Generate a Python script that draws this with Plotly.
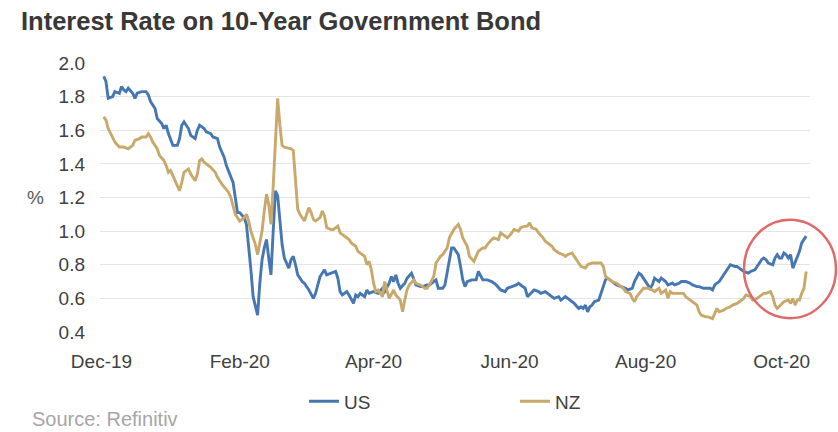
import plotly.graph_objects as go

# 10-year government bond yields (%), US
us_dates = [
    "2019-12-02", "2019-12-03", "2019-12-04", "2019-12-06", "2019-12-07", "2019-12-09", "2019-12-10",
    "2019-12-11", "2019-12-12", "2019-12-13", "2019-12-15", "2019-12-16", "2019-12-17", "2019-12-19",
    "2019-12-21", "2019-12-22", "2019-12-23", "2019-12-25", "2019-12-26", "2019-12-28", "2019-12-29",
    "2019-12-30", "2019-12-31", "2020-01-01", "2020-01-02", "2020-01-04", "2020-01-05", "2020-01-06",
    "2020-01-07", "2020-01-09", "2020-01-10", "2020-01-12", "2020-01-13", "2020-01-14", "2020-01-16",
    "2020-01-17", "2020-01-19", "2020-01-20", "2020-01-22", "2020-01-23", "2020-01-25", "2020-01-26",
    "2020-01-28", "2020-01-29", "2020-01-30", "2020-01-31", "2020-02-01", "2020-02-03", "2020-02-04",
    "2020-02-05", "2020-02-06", "2020-02-07", "2020-02-09", "2020-02-10", "2020-02-11", "2020-02-12",
    "2020-02-13", "2020-02-14", "2020-02-15", "2020-02-16", "2020-02-17", "2020-02-18", "2020-02-19",
    "2020-02-20", "2020-02-21", "2020-02-23", "2020-02-24", "2020-02-25", "2020-02-26", "2020-02-27",
    "2020-02-29", "2020-03-01", "2020-03-03", "2020-03-05", "2020-03-06", "2020-03-07", "2020-03-08",
    "2020-03-10", "2020-03-11", "2020-03-13", "2020-03-15", "2020-03-16", "2020-03-17", "2020-03-18",
    "2020-03-20", "2020-03-21", "2020-03-23", "2020-03-24", "2020-03-25", "2020-03-26", "2020-03-28",
    "2020-03-29", "2020-03-30", "2020-04-01", "2020-04-03", "2020-04-05", "2020-04-06", "2020-04-08",
    "2020-04-09", "2020-04-10", "2020-04-11", "2020-04-12", "2020-04-13", "2020-04-15", "2020-04-16",
    "2020-04-18", "2020-04-19", "2020-04-20", "2020-04-22", "2020-04-23", "2020-04-25", "2020-04-26",
    "2020-04-27", "2020-04-29", "2020-04-30", "2020-05-02", "2020-05-03", "2020-05-04", "2020-05-05",
    "2020-05-06", "2020-05-07", "2020-05-09", "2020-05-10", "2020-05-11", "2020-05-12", "2020-05-13",
    "2020-05-15", "2020-05-17", "2020-05-18", "2020-05-19", "2020-05-20", "2020-05-22", "2020-05-24",
    "2020-05-26", "2020-05-28", "2020-05-30", "2020-05-31", "2020-06-02", "2020-06-04", "2020-06-05",
    "2020-06-06", "2020-06-08", "2020-06-09", "2020-06-11", "2020-06-12", "2020-06-14", "2020-06-15",
    "2020-06-17", "2020-06-18", "2020-06-20", "2020-06-21", "2020-06-23", "2020-06-24", "2020-06-26",
    "2020-06-27", "2020-06-29", "2020-06-30", "2020-07-02", "2020-07-03", "2020-07-04", "2020-07-05",
    "2020-07-06", "2020-07-07", "2020-07-08", "2020-07-09", "2020-07-11", "2020-07-12", "2020-07-13",
    "2020-07-14", "2020-07-15", "2020-07-17", "2020-07-19", "2020-07-21", "2020-07-23", "2020-07-24",
    "2020-07-26", "2020-07-27", "2020-07-29", "2020-07-30", "2020-07-31", "2020-08-02", "2020-08-03",
    "2020-08-04", "2020-08-05", "2020-08-07", "2020-08-08", "2020-08-10", "2020-08-11", "2020-08-13",
    "2020-08-14", "2020-08-16", "2020-08-17", "2020-08-19", "2020-08-21", "2020-08-22", "2020-08-24",
    "2020-08-25", "2020-08-27", "2020-08-28", "2020-08-30", "2020-08-31", "2020-09-01", "2020-09-03",
    "2020-09-04", "2020-09-06", "2020-09-07", "2020-09-08", "2020-09-10", "2020-09-11", "2020-09-13",
    "2020-09-14", "2020-09-16", "2020-09-17", "2020-09-19", "2020-09-20", "2020-09-22", "2020-09-23",
    "2020-09-24", "2020-09-25", "2020-09-27", "2020-09-28", "2020-09-29", "2020-09-30", "2020-10-01",
    "2020-10-02", "2020-10-03", "2020-10-04", "2020-10-05", "2020-10-06", "2020-10-07", "2020-10-08",
    "2020-10-09", "2020-10-10", "2020-10-12",
]
us_rates = [
    1.92, 1.89, 1.79, 1.80, 1.83, 1.82, 1.86,
    1.84, 1.83, 1.85, 1.82, 1.79, 1.82, 1.83,
    1.83, 1.81, 1.77, 1.73, 1.67, 1.64, 1.61,
    1.63, 1.58, 1.54, 1.51, 1.51, 1.55, 1.63,
    1.65, 1.61, 1.57, 1.55, 1.60, 1.63, 1.61,
    1.59, 1.58, 1.56, 1.55, 1.50, 1.44, 1.39,
    1.33, 1.29, 1.20, 1.11, 1.11, 1.08, 1.04,
    0.92, 0.77, 0.61, 0.50, 0.69, 0.83, 0.90,
    0.95, 0.84, 0.74, 1.00, 1.24, 1.21, 1.06,
    0.92, 0.84, 0.78, 0.83, 0.85, 0.80, 0.74,
    0.70, 0.69, 0.65, 0.60, 0.63, 0.68, 0.73,
    0.77, 0.74, 0.75, 0.76, 0.72, 0.64, 0.62,
    0.64, 0.62, 0.57, 0.62, 0.61, 0.63, 0.61,
    0.65, 0.63, 0.64, 0.63, 0.66, 0.64, 0.69,
    0.73, 0.70, 0.74, 0.69, 0.66, 0.69, 0.72,
    0.75, 0.72, 0.68, 0.67, 0.67, 0.68, 0.68,
    0.69, 0.71, 0.66, 0.66, 0.68, 0.76, 0.84,
    0.90, 0.90, 0.86, 0.79, 0.71, 0.67, 0.70,
    0.71, 0.71, 0.76, 0.73, 0.71, 0.71, 0.70,
    0.68, 0.65, 0.64, 0.66, 0.67, 0.68, 0.69,
    0.68, 0.66, 0.61, 0.64, 0.65, 0.64, 0.63,
    0.64, 0.63, 0.61, 0.60, 0.61, 0.59, 0.61,
    0.60, 0.58, 0.57, 0.54, 0.55, 0.54, 0.56,
    0.52, 0.55, 0.56, 0.58, 0.59, 0.63, 0.68,
    0.71, 0.72, 0.70, 0.68, 0.67, 0.66, 0.65,
    0.66, 0.70, 0.75, 0.74, 0.72, 0.68, 0.66,
    0.68, 0.72, 0.70, 0.72, 0.70, 0.68, 0.69,
    0.68, 0.69, 0.70, 0.70, 0.69, 0.68, 0.67,
    0.67, 0.66, 0.66, 0.66, 0.65, 0.68, 0.70,
    0.72, 0.76, 0.78, 0.80, 0.79, 0.79, 0.77,
    0.76, 0.75, 0.76, 0.77, 0.79, 0.83, 0.84,
    0.83, 0.81, 0.80, 0.84, 0.86, 0.84, 0.84,
    0.87, 0.86, 0.84, 0.86, 0.78, 0.81, 0.85,
    0.88, 0.93, 0.97,
]

# 10-year government bond yields (%), NZ
nz_dates = [
    "2019-12-02", "2019-12-03", "2019-12-04", "2019-12-06", "2019-12-07", "2019-12-09", "2019-12-11",
    "2019-12-13", "2019-12-15", "2019-12-16", "2019-12-18", "2019-12-19", "2019-12-21", "2019-12-22",
    "2019-12-23", "2019-12-24", "2019-12-26", "2019-12-27", "2019-12-29", "2019-12-30", "2019-12-31",
    "2020-01-01", "2020-01-02", "2020-01-03", "2020-01-04", "2020-01-05", "2020-01-06", "2020-01-07",
    "2020-01-09", "2020-01-10", "2020-01-12", "2020-01-13", "2020-01-14", "2020-01-15", "2020-01-16",
    "2020-01-18", "2020-01-19", "2020-01-21", "2020-01-22", "2020-01-24", "2020-01-26", "2020-01-27",
    "2020-01-28", "2020-01-29", "2020-01-30", "2020-02-01", "2020-02-03", "2020-02-04", "2020-02-05",
    "2020-02-06", "2020-02-08", "2020-02-09", "2020-02-10", "2020-02-11", "2020-02-12", "2020-02-13",
    "2020-02-14", "2020-02-15", "2020-02-16", "2020-02-17", "2020-02-18", "2020-02-19", "2020-02-20",
    "2020-02-21", "2020-02-24", "2020-02-25", "2020-02-26", "2020-02-27", "2020-02-28", "2020-02-29",
    "2020-03-01", "2020-03-02", "2020-03-03", "2020-03-04", "2020-03-05", "2020-03-06", "2020-03-08",
    "2020-03-09", "2020-03-10", "2020-03-11", "2020-03-13", "2020-03-14", "2020-03-15", "2020-03-16",
    "2020-03-17", "2020-03-19", "2020-03-21", "2020-03-22", "2020-03-24", "2020-03-25", "2020-03-27",
    "2020-03-28", "2020-03-29", "2020-03-30", "2020-03-31", "2020-04-01", "2020-04-02", "2020-04-03",
    "2020-04-04", "2020-04-05", "2020-04-06", "2020-04-07", "2020-04-08", "2020-04-10", "2020-04-11",
    "2020-04-13", "2020-04-14", "2020-04-15", "2020-04-16", "2020-04-17", "2020-04-19", "2020-04-20",
    "2020-04-22", "2020-04-24", "2020-04-25", "2020-04-26", "2020-04-28", "2020-04-29", "2020-05-01",
    "2020-05-02", "2020-05-04", "2020-05-05", "2020-05-07", "2020-05-09", "2020-05-10", "2020-05-11",
    "2020-05-13", "2020-05-14", "2020-05-16", "2020-05-18", "2020-05-20", "2020-05-21", "2020-05-22",
    "2020-05-24", "2020-05-25", "2020-05-27", "2020-05-28", "2020-05-30", "2020-05-31", "2020-06-02",
    "2020-06-03", "2020-06-05", "2020-06-06", "2020-06-08", "2020-06-09", "2020-06-10", "2020-06-11",
    "2020-06-13", "2020-06-14", "2020-06-16", "2020-06-17", "2020-06-18", "2020-06-20", "2020-06-21",
    "2020-06-23", "2020-06-25", "2020-06-26", "2020-06-27", "2020-06-29", "2020-06-30", "2020-07-02",
    "2020-07-03", "2020-07-05", "2020-07-06", "2020-07-08", "2020-07-10", "2020-07-12", "2020-07-13",
    "2020-07-14", "2020-07-16", "2020-07-17", "2020-07-19", "2020-07-20", "2020-07-22", "2020-07-23",
    "2020-07-25", "2020-07-26", "2020-07-27", "2020-07-28", "2020-07-30", "2020-07-31", "2020-08-02",
    "2020-08-04", "2020-08-05", "2020-08-07", "2020-08-08", "2020-08-10", "2020-08-11", "2020-08-12",
    "2020-08-13", "2020-08-15", "2020-08-16", "2020-08-18", "2020-08-19", "2020-08-21", "2020-08-22",
    "2020-08-24", "2020-08-25", "2020-08-26", "2020-08-28", "2020-08-29", "2020-08-31", "2020-09-01",
    "2020-09-02", "2020-09-03", "2020-09-05", "2020-09-06", "2020-09-08", "2020-09-09", "2020-09-11",
    "2020-09-12", "2020-09-14", "2020-09-15", "2020-09-17", "2020-09-18", "2020-09-20", "2020-09-21",
    "2020-09-23", "2020-09-24", "2020-09-26", "2020-09-27", "2020-09-28", "2020-09-29", "2020-10-01",
    "2020-10-02", "2020-10-04", "2020-10-05", "2020-10-06", "2020-10-07", "2020-10-08", "2020-10-09",
    "2020-10-10", "2020-10-11", "2020-10-12",
]
nz_rates = [
    1.68, 1.66, 1.61, 1.56, 1.53, 1.50, 1.50,
    1.49, 1.51, 1.54, 1.55, 1.56, 1.56, 1.58,
    1.56, 1.53, 1.49, 1.45, 1.42, 1.39, 1.35,
    1.36, 1.33, 1.30, 1.27, 1.24, 1.29, 1.35,
    1.37, 1.34, 1.30, 1.34, 1.42, 1.43, 1.41,
    1.39, 1.38, 1.35, 1.32, 1.28, 1.25, 1.23,
    1.20, 1.15, 1.10, 1.06, 1.08, 1.10, 1.06,
    1.00, 0.92, 0.86, 0.92, 1.00, 1.12, 1.22,
    1.16, 1.04, 1.27, 1.50, 1.79, 1.63, 1.51,
    1.50, 1.49, 1.48, 1.29, 1.13, 1.10, 1.08,
    1.06, 1.10, 1.14, 1.11, 1.07, 1.06, 1.08,
    1.12, 1.09, 1.02, 1.01, 1.01, 1.02, 1.03,
    0.99, 0.97, 0.95, 0.93, 0.91, 0.88, 0.86,
    0.85, 0.80, 0.82, 0.77, 0.69, 0.64, 0.65,
    0.63, 0.61, 0.70, 0.65, 0.60, 0.65, 0.62,
    0.59, 0.52, 0.59, 0.65, 0.68, 0.71, 0.69,
    0.68, 0.66, 0.66, 0.68, 0.73, 0.81, 0.85,
    0.86, 0.90, 0.96, 1.01, 1.04, 1.01, 0.96,
    0.91, 0.85, 0.82, 0.88, 0.90, 0.90, 0.92,
    0.95, 0.96, 0.95, 0.99, 0.97, 0.96, 0.99,
    1.01, 1.00, 1.02, 1.03, 1.03, 1.05, 1.02,
    1.01, 0.99, 0.96, 0.94, 0.93, 0.91, 0.89,
    0.87, 0.86, 0.85, 0.86, 0.87, 0.85, 0.81,
    0.79, 0.78, 0.80, 0.81, 0.81, 0.81, 0.79,
    0.73, 0.71, 0.70, 0.69, 0.68, 0.66, 0.64,
    0.63, 0.60, 0.58, 0.61, 0.64, 0.66, 0.66,
    0.65, 0.64, 0.66, 0.63, 0.65, 0.60, 0.64,
    0.63, 0.63, 0.63, 0.63, 0.61, 0.59, 0.58,
    0.56, 0.52, 0.50, 0.49, 0.49, 0.48, 0.51,
    0.54, 0.52, 0.53, 0.54, 0.55, 0.56, 0.57,
    0.58, 0.60, 0.62, 0.61, 0.59, 0.60, 0.61,
    0.63, 0.63, 0.64, 0.61, 0.56, 0.54, 0.57,
    0.58, 0.59, 0.57, 0.60, 0.56, 0.59, 0.59,
    0.63, 0.66, 0.76,
]

FONT = "Liberation Sans, Arial, sans-serif"
US_BLUE = "#4677b3"
NZ_GOLD = "#c9a96b"

fig = go.Figure()
fig.add_trace(go.Scatter(x=us_dates, y=us_rates, name="US", mode="lines",
                         line=dict(color=US_BLUE, width=2.9)))
fig.add_trace(go.Scatter(x=nz_dates, y=nz_rates, name="NZ", mode="lines",
                         line=dict(color=NZ_GOLD, width=2.9)))

fig.update_layout(
    width=838, height=432,
    margin=dict(l=100, r=28, t=63, b=96),
    paper_bgcolor="white", plot_bgcolor="white",
    font=dict(family=FONT, size=18, color="#404040"),
    title=dict(text="<b>Interest Rate on 10-Year Government Bond</b>",
               xref="container", x=21 / 838, xanchor="left",
               yref="container", y=1 - 21 / 432, yanchor="middle",
               font=dict(family=FONT, size=25.5, color="#383838")),
    showlegend=True,
    legend=dict(orientation="h", x=0.2873, xanchor="left", y=-0.258, yanchor="middle",
                entrywidth=166, entrywidthmode="pixels", itemwidth=30,
                font=dict(family=FONT, size=19, color="#404040"),
                bgcolor="rgba(0,0,0,0)"),
    xaxis=dict(type="date", range=["2019-11-30 08:00", "2020-10-13 17:00"],
               tick0="2019-12-01", dtick="M2", tickformat="%b-%y",
               showgrid=False, zeroline=False, showline=False, ticks="",
               ticklabelstandoff=16,
               tickfont=dict(family=FONT, size=19, color="#404040")),
    yaxis=dict(range=[0.4, 2.0], tick0=0.4, dtick=0.2, tickformat=".1f",
               showgrid=True, gridcolor="#e4e4e4", gridwidth=1,
               zeroline=False, showline=False, ticks="",
               ticklabelstandoff=14,
               tickfont=dict(family=FONT, size=19, color="#404040")),
    shapes=[dict(type="circle", xref="paper", yref="paper",
                 x0=0.907, x1=1.0366, y0=0.0513, y1=0.4176,
                 line=dict(color="#e06a6a", width=2.5))],
    annotations=[
        dict(text="%", xref="paper", yref="y", x=-0.0915, y=1.2,
             xanchor="center", yanchor="middle", showarrow=False,
             font=dict(family=FONT, size=19, color="#595959")),
        dict(text="Source: Refinitiv", xref="paper", yref="paper",
             x=-0.0985, y=-0.372, xanchor="left", yanchor="bottom", showarrow=False,
             font=dict(family=FONT, size=20, color="#a6a6a6")),
    ],
)

fig.write_html("out.html")
